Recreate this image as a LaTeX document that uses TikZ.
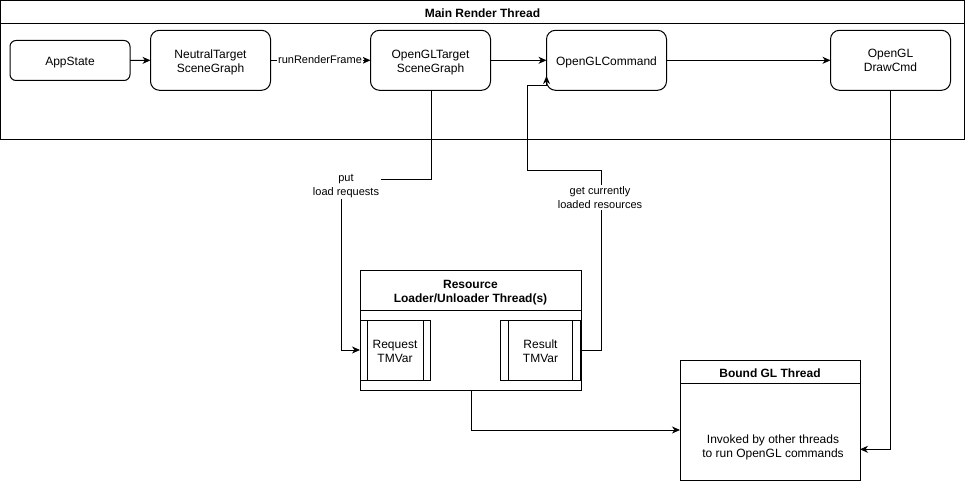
\documentclass[tikz,border=0pt]{standalone}
\usepackage{fontspec}
\setmainfont{Liberation Sans}
\usetikzlibrary{arrows.meta}
\begin{document}
\begin{tikzpicture}[x=1pt, y=-1pt, line width=1pt,
  every node/.style={font=\fontsize{12}{14}\selectfont, align=center, inner sep=0pt, outer sep=0pt},
  blk/.style={draw, rounded corners=9pt, minimum width=120pt, minimum height=60pt},
  lane/.style={draw, anchor=north west},
  hdr/.style={draw, anchor=north west},
  hdrtext/.style={font=\bfseries\fontsize{12}{14}\selectfont, yshift=-#1},
  hdrtext/.default=1pt,
  txt/.style={yshift=-#1},
  txt/.default=2pt,
  proc/.style={draw, minimum height=60pt},
  arr/.style={-{Stealth[length=8pt, width=7pt, inset=2.5pt]}},
  elabel/.style={fill=white, font=\fontsize{11}{13.2}\selectfont, inner sep=1.5pt}]
\useasboundingbox (0,0) rectangle (967,481);

% main render thread lane
\node[lane, minimum width=964pt, minimum height=139.5pt] (main) at (0.5,0.5) {};
\node[hdr, minimum width=964pt, minimum height=23pt] (mainhdr) at (0.5,0.5) {};
\node[hdrtext=1.3pt] (mainhdr-t) at (mainhdr) {Main Render Thread};

\node[blk, rounded corners=6pt, minimum height=40pt] (app) at (70,60.5) {};
\node[txt] (app-t) at (app) {AppState};
\node[blk] (neutral) at (210.5,60.3) {};
\node[txt] (neutral-t) at (neutral) {NeutralTarget\\SceneGraph};
\node[blk] (gltarget) at (430.5,60.3) {};
\node[txt] (gltarget-t) at (gltarget) {OpenGLTarget\\SceneGraph};
\node[blk] (glcmd) at (606.5,60.3) {};
\node[txt] (glcmd-t) at (glcmd) {OpenGLCommand};
\node[blk] (drawcmd) at (890.5,60.3) {};
\node[txt=0.5pt] (drawcmd-t) at (drawcmd) {OpenGL\\DrawCmd};

% resource loader lane with its two queues
\node[lane, minimum width=221pt, minimum height=119.3pt] (rbox) at (360,270.7) {};
\node[hdr, minimum width=221pt, minimum height=40pt] (rhdr) at (360,270.7) {};
\node[hdrtext=2pt] (rhdr-t) at (rhdr) {Resource\\Loader/Unloader Thread(s)};
\node[proc, minimum width=70pt] (req) at (395,350) {};
\node[txt=1pt] (req-t) at (req) {Request\\TMVar};
\draw ([xshift=7.5pt]req.north west) -- ([xshift=7.5pt]req.south west);
\draw ([xshift=-7pt]req.north east) -- ([xshift=-7pt]req.south east);
\node[proc, minimum width=80pt] (res) at (540.5,350) {};
\node[txt=1pt] (res-t) at (res) {Result\\TMVar};
\draw ([xshift=8pt]res.north west) -- ([xshift=8pt]res.south west);
\draw ([xshift=-8pt]res.north east) -- ([xshift=-8pt]res.south east);

% bound GL thread lane
\node[lane, minimum width=180pt, minimum height=119.3pt] (bbox) at (680,360.7) {};
\node[hdr, minimum width=180pt, minimum height=22.6pt] (bhdr) at (680,360.7) {};
\node[hdrtext] (bhdr-t) at (bhdr) {Bound GL Thread};
\node[txt=2.5pt] (btext) at (773,445) {Invoked by other threads\\to run OpenGL commands};

% connectors
\draw[arr] (app.east) -- (neutral.west);
\draw[arr] (neutral.east) -- (gltarget.west);
\node[elabel] (rrf) at (320,60) {runRenderFrame};
\draw[arr] (gltarget.east) -- (glcmd.west);
\draw[arr] (glcmd.east) -- (drawcmd.west);

\draw[arr] (gltarget.south -| 431,0) |- (341,180) |- (req.west);
\node[elabel] (putlbl) at (346,186) {put\\load requests};

\draw[arr] (res.east) -| (601,171) -- (527,171) -- (527,85.3)
  -- (glcmd.west |- 0,85.3) -- (glcmd.west |- 0,76);
\node[elabel] (getlbl) at (600,197.5) {get currently\\loaded resources};

\draw[arr] (rbox.south -| 471,0) |- (bbox.west |- 0,430);
\draw[arr] (drawcmd.south) |- (bbox.east |- 0,449.3);
\end{tikzpicture}
\end{document}
